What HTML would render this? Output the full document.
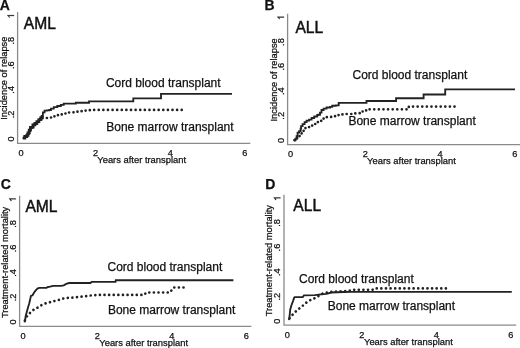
<!DOCTYPE html>
<html><head><meta charset="utf-8"><style>
html,body{margin:0;padding:0;background:#fff;}
svg{display:block;will-change:transform;}
text{font-family:"Liberation Sans", sans-serif;fill:#111;stroke:#111;stroke-width:0.25px;}
</style></head><body>
<svg width="520" height="348" viewBox="0 0 520 348">
<rect width="520" height="348" fill="#fff"/>
<text x="-0.15" y="10.4" font-size="14" font-weight="bold">A</text>
<path d="M17.6,12.1 V143.3 H250.3" fill="none" stroke="#8a8a8a" stroke-width="1.3"/>
<text transform="translate(14.0,139.00) rotate(-90)" text-anchor="middle" font-size="9.2">0</text>
<text transform="translate(14.0,114.40) rotate(-90)" text-anchor="middle" font-size="9.2">.2</text>
<text transform="translate(14.0,89.80) rotate(-90)" text-anchor="middle" font-size="9.2">.4</text>
<text transform="translate(14.0,65.20) rotate(-90)" text-anchor="middle" font-size="9.2">.6</text>
<text transform="translate(14.0,40.60) rotate(-90)" text-anchor="middle" font-size="9.2">.8</text>
<path transform="translate(14.0,16.00) rotate(-90) translate(-2.558,0) scale(0.004492,-0.004492)" d="M763,0H583V1147Q518,1085 412,1023Q306,961 222,930V1104Q373,1175 486,1276Q599,1377 646,1472H763Z" fill="#111" stroke="#111" stroke-width="55.7"/>
<text x="21.00" y="156.2" text-anchor="middle" font-size="9.2">0</text>
<text x="95.60" y="156.2" text-anchor="middle" font-size="9.2">2</text>
<text x="170.20" y="156.2" text-anchor="middle" font-size="9.2">4</text>
<text x="244.80" y="156.2" text-anchor="middle" font-size="9.2">6</text>
<text x="97.29" y="162.8" font-size="9.4">Years after transplant</text>
<text transform="translate(7.2,78.2) rotate(-90)" text-anchor="middle" font-size="9.3">Incidence of relapse</text>
<text x="23.77" y="28.6" font-size="15.6" style="stroke-width:0.45px">AML</text>
<text x="105.89" y="86.6" font-size="12">Cord blood transplant</text>
<text x="106.22" y="130.7" font-size="12">Bone marrow transplant</text>
<polyline points="42.50,118.20 46.90,118.20 46.90,117.50 51.50,117.50 51.50,116.30 55.00,116.30 55.00,115.20 58.50,115.20 58.50,114.40 61.90,114.40 61.90,113.50 66.50,113.50 66.50,112.50 70.60,112.50 70.60,112.30 74.60,112.30 74.60,111.70 78.70,111.70 78.70,111.20 82.70,111.20 82.70,110.60 87.30,110.60 87.30,110.20 90.80,110.20 90.80,109.90 185.00,109.90" fill="none" stroke="#222" stroke-width="2.7" stroke-dasharray="0.01 4.6" stroke-linecap="round"/>
<polyline points="22.80,138.10 24.80,138.10 24.80,136.50 26.80,136.50 26.80,135.30 28.00,135.30 28.00,132.90 29.30,132.90 29.30,130.10 30.50,130.10 30.50,127.30 32.90,127.30 32.90,124.90 34.90,124.90 34.90,123.30 36.90,123.30 36.90,121.70 38.90,121.70 38.90,119.60 40.90,119.60 40.90,117.60 42.50,117.60 42.50,117.80" fill="none" stroke="#222" stroke-width="2.8"/>
<polyline points="22.70,138.00 24.50,138.00 24.50,136.70 25.80,136.70 25.80,135.90 27.10,135.90 27.10,134.10 28.80,134.10 28.80,130.70 30.10,130.70 30.10,128.10 31.80,128.10 31.80,126.80 33.50,126.80 33.50,124.70 35.20,124.70 35.20,123.80 37.00,123.80 37.00,122.10 38.70,122.10 38.70,119.90 40.40,119.90 40.40,118.20 41.70,118.20 41.70,115.80 42.90,115.80 42.90,112.30 44.60,112.30 44.60,110.60 46.90,110.60 46.90,110.30 49.20,110.30 49.20,110.00 51.00,110.00 51.00,108.60 53.80,108.60 53.80,107.10 57.30,107.10 57.30,106.00 60.80,106.00 60.80,104.80 63.70,104.80 63.70,103.60 74.60,103.60 75.80,103.60 75.80,102.70 87.90,102.70 89.00,102.70 89.00,101.30 133.30,101.30 133.30,98.30 161.00,98.30 161.00,93.90 232.00,93.90" fill="none" stroke="#222" stroke-width="1.85" stroke-linejoin="miter"/>
<text x="264.46" y="10.3" font-size="14" font-weight="bold">B</text>
<path d="M287.6,13.7 V144.6 H520" fill="none" stroke="#8a8a8a" stroke-width="1.3"/>
<text transform="translate(284.0,140.40) rotate(-90)" text-anchor="middle" font-size="9.2">0</text>
<text transform="translate(284.0,115.82) rotate(-90)" text-anchor="middle" font-size="9.2">.2</text>
<text transform="translate(284.0,91.24) rotate(-90)" text-anchor="middle" font-size="9.2">.4</text>
<text transform="translate(284.0,66.66) rotate(-90)" text-anchor="middle" font-size="9.2">.6</text>
<text transform="translate(284.0,42.08) rotate(-90)" text-anchor="middle" font-size="9.2">.8</text>
<path transform="translate(284.0,17.50) rotate(-90) translate(-2.558,0) scale(0.004492,-0.004492)" d="M763,0H583V1147Q518,1085 412,1023Q306,961 222,930V1104Q373,1175 486,1276Q599,1377 646,1472H763Z" fill="#111" stroke="#111" stroke-width="55.7"/>
<text x="290.50" y="157.4" text-anchor="middle" font-size="9.2">0</text>
<text x="365.24" y="157.4" text-anchor="middle" font-size="9.2">2</text>
<text x="439.98" y="157.4" text-anchor="middle" font-size="9.2">4</text>
<text x="514.72" y="157.4" text-anchor="middle" font-size="9.2">6</text>
<text x="367.09" y="164.0" font-size="9.4">Years after transplant</text>
<text transform="translate(277.3,79.9) rotate(-90)" text-anchor="middle" font-size="9.3">Incidence of relapse</text>
<text x="295.47" y="32.8" font-size="15.6" style="stroke-width:0.45px">ALL</text>
<text x="352.49" y="78.8" font-size="12">Cord blood transplant</text>
<text x="348.42" y="125.3" font-size="12">Bone marrow transplant</text>
<polyline points="294.50,140.20 296.00,140.20 296.00,138.20 298.10,138.20 298.10,136.20 299.60,136.20 299.60,134.10 301.60,134.10 301.60,132.10 303.60,132.10 303.60,129.60 305.10,129.60 305.10,128.10 307.60,128.10 307.60,127.10 310.10,127.10 310.10,125.60 312.60,125.60 312.60,124.10 315.20,124.10 315.20,122.30 317.90,122.30 317.90,120.80 321.50,120.80 321.50,119.40 323.60,119.40 323.60,117.20 327.90,117.20 327.90,116.90 331.90,116.90 331.90,116.20 335.80,116.20 335.80,115.10 339.80,115.10 339.80,114.40 343.70,114.40 343.70,114.00 348.60,114.00 352.90,114.00 352.90,113.40 357.20,113.40 357.20,113.20 360.30,113.20 360.30,111.50 364.10,111.50 364.10,110.40 367.60,110.40 367.60,109.30 408.80,109.30 408.80,106.60 455.20,106.60" fill="none" stroke="#222" stroke-width="2.7" stroke-dasharray="0.01 4.6" stroke-linecap="round"/>
<polyline points="294.20,140.20 295.50,140.20 295.50,138.70 296.60,138.70 296.60,136.20 297.60,136.20 297.60,132.60 299.10,132.60 299.10,131.10 300.60,131.10 300.60,128.60 301.10,128.60 301.10,126.10 302.60,126.10 302.60,124.10 304.60,124.10 304.60,122.10 306.60,122.10 306.60,120.60 309.10,120.60 309.10,119.60 311.60,119.60 311.60,118.00 314.20,118.00 314.20,116.50 317.20,116.50 317.20,115.00 318.20,115.00 318.20,114.70 320.00,114.70 320.00,112.60 321.50,112.60 321.50,110.00 323.60,110.00 323.60,108.60 326.50,108.60 326.50,107.50 330.10,107.50 330.10,106.80 332.20,106.80 332.20,105.70 335.80,105.70 335.80,105.40 338.70,105.40 338.70,102.90 366.50,102.90 366.50,101.00 396.10,101.00 396.10,98.20 423.60,98.20 423.60,94.50 445.20,94.50 445.20,89.40 515.00,89.40" fill="none" stroke="#222" stroke-width="1.85" stroke-linejoin="miter"/>
<text x="0.83" y="189.0" font-size="14" font-weight="bold">C</text>
<path d="M19.6,195.8 V326.3 H251.3" fill="none" stroke="#8a8a8a" stroke-width="1.3"/>
<text transform="translate(15.8,321.90) rotate(-90)" text-anchor="middle" font-size="9.2">0</text>
<text transform="translate(15.8,297.40) rotate(-90)" text-anchor="middle" font-size="9.2">.2</text>
<text transform="translate(15.8,272.90) rotate(-90)" text-anchor="middle" font-size="9.2">.4</text>
<text transform="translate(15.8,248.40) rotate(-90)" text-anchor="middle" font-size="9.2">.6</text>
<text transform="translate(15.8,223.90) rotate(-90)" text-anchor="middle" font-size="9.2">.8</text>
<path transform="translate(15.8,199.40) rotate(-90) translate(-2.558,0) scale(0.004492,-0.004492)" d="M763,0H583V1147Q518,1085 412,1023Q306,961 222,930V1104Q373,1175 486,1276Q599,1377 646,1472H763Z" fill="#111" stroke="#111" stroke-width="55.7"/>
<text x="23.00" y="339.3" text-anchor="middle" font-size="9.2">0</text>
<text x="97.40" y="339.3" text-anchor="middle" font-size="9.2">2</text>
<text x="171.80" y="339.3" text-anchor="middle" font-size="9.2">4</text>
<text x="246.20" y="339.3" text-anchor="middle" font-size="9.2">6</text>
<text x="99.29" y="345.6" font-size="9.4">Years after transplant</text>
<text transform="translate(7.7,262.4) rotate(-90)" text-anchor="middle" font-size="9.3">Treatment-related mortality</text>
<text x="25.47" y="212.1" font-size="15.6" style="stroke-width:0.45px">AML</text>
<text x="107.49" y="270.6" font-size="12">Cord blood transplant</text>
<text x="107.92" y="314.2" font-size="12">Bone marrow transplant</text>
<polyline points="24.90,320.50 25.80,318.50 26.70,316.60 28.50,314.80 30.60,312.20 33.20,310.10 35.80,308.40 38.80,307.10 41.80,304.90 44.80,303.60 48.70,302.80 51.30,301.60 53.20,301.30 57.20,300.40 60.00,299.60 64.60,298.10 69.20,297.80 75.40,297.30 83.00,296.50 90.80,295.50 96.90,294.90 144.50,294.90 146.00,292.50 170.10,292.50 171.40,290.50 173.50,287.50 185.50,287.50" fill="none" stroke="#222" stroke-width="2.7" stroke-dasharray="0.01 4.6" stroke-linecap="round"/>
<polyline points="24.60,322.40 25.20,319.50 25.70,316.00 26.90,311.40 28.00,307.40 29.20,303.40 30.30,298.80 30.90,295.90 32.60,295.30 33.80,293.00 35.50,290.70 37.80,288.40 39.50,287.90 46.40,287.90 48.00,287.00 50.00,286.70 53.20,285.80 61.00,285.80 63.80,285.40 66.20,283.90 69.20,283.00 90.50,283.00 91.50,281.90 115.50,281.90 115.80,280.20 233.40,280.20" fill="none" stroke="#222" stroke-width="1.85" stroke-linejoin="miter"/>
<text x="265.36" y="188.7" font-size="14" font-weight="bold">D</text>
<path d="M284.0,194.7 V325.2 H516.2" fill="none" stroke="#8a8a8a" stroke-width="1.3"/>
<text transform="translate(280.4,321.30) rotate(-90)" text-anchor="middle" font-size="9.2">0</text>
<text transform="translate(280.4,296.72) rotate(-90)" text-anchor="middle" font-size="9.2">.2</text>
<text transform="translate(280.4,272.14) rotate(-90)" text-anchor="middle" font-size="9.2">.4</text>
<text transform="translate(280.4,247.56) rotate(-90)" text-anchor="middle" font-size="9.2">.6</text>
<text transform="translate(280.4,222.98) rotate(-90)" text-anchor="middle" font-size="9.2">.8</text>
<path transform="translate(280.4,198.40) rotate(-90) translate(-2.558,0) scale(0.004492,-0.004492)" d="M763,0H583V1147Q518,1085 412,1023Q306,961 222,930V1104Q373,1175 486,1276Q599,1377 646,1472H763Z" fill="#111" stroke="#111" stroke-width="55.7"/>
<text x="287.40" y="338.2" text-anchor="middle" font-size="9.2">0</text>
<text x="361.86" y="338.2" text-anchor="middle" font-size="9.2">2</text>
<text x="436.32" y="338.2" text-anchor="middle" font-size="9.2">4</text>
<text x="510.78" y="338.2" text-anchor="middle" font-size="9.2">6</text>
<text x="363.99" y="345.0" font-size="9.4">Years after transplant</text>
<text transform="translate(272.4,260.65) rotate(-90)" text-anchor="middle" font-size="9.3">Treatment-related mortality</text>
<text x="293.37" y="211.3" font-size="15.6" style="stroke-width:0.45px">ALL</text>
<text x="298.99" y="282.7" font-size="12">Cord blood transplant</text>
<text x="327.72" y="309.6" font-size="12">Bone marrow transplant</text>
<polyline points="289.60,318.30 291.30,316.00 293.00,314.30 295.30,312.00 297.60,309.70 299.90,308.00 302.20,306.30 304.50,304.00 306.80,302.20 309.70,300.50 312.60,298.80 315.00,298.20 317.90,296.40 321.00,294.20 324.60,293.00 329.40,292.00 339.00,291.40 351.50,290.60 353.50,289.80 372.50,289.80 374.20,288.40 450.00,288.40" fill="none" stroke="#222" stroke-width="2.7" stroke-dasharray="0.01 4.6" stroke-linecap="round"/>
<polyline points="289.00,320.10 289.60,316.00 290.20,309.70 291.30,305.70 293.00,301.10 294.20,297.60 294.80,297.10 302.80,297.10 304.00,295.30 315.00,295.10 320.80,294.40 326.50,293.90 331.30,292.50 343.80,292.00 351.50,291.80 511.80,291.80" fill="none" stroke="#222" stroke-width="1.85" stroke-linejoin="miter"/>
</svg>
</body></html>
